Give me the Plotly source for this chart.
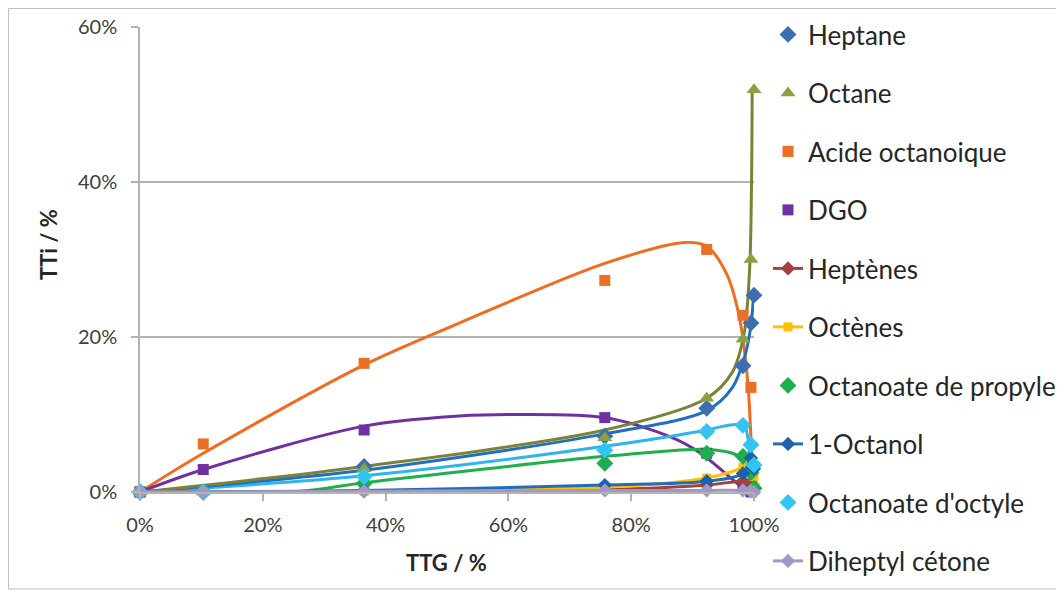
import plotly.graph_objects as go

# ---------------- data ----------------
TTG = [0, 0.103, 0.365, 0.757, 0.923, 0.982, 0.995, 1.0]

heptane = [0, 0, 0.033, 0.072, 0.108, 0.163, 0.218, 0.254]
octane = [0, 0, 0.030, 0.070, 0.121, 0.197, 0.300, 0.519]
acide = [0, 0.062, 0.166, 0.273, 0.313, 0.228, 0.135, 0.004]
dgo = [0, 0.029, 0.080, 0.096, 0.050, 0.005, 0.0, None]
heptenes = [0, 0, 0.001, 0.003, 0.009, 0.014, 0.012, 0.005]
octenes = [0, 0, 0.001, 0.006, 0.018, 0.032, 0.040, 0.020]
propyle = [0, 0, 0.011, 0.037, 0.050, 0.046, 0.025, 0.005]
octanol = [0, 0, 0.002, 0.009, 0.014, 0.024, 0.044, 0.030]
octyle = [0, 0, 0.020, 0.054, 0.078, 0.086, 0.061, 0.035]
diheptyl = [0, 0, 0.001, 0.002, 0.002, 0.002, 0.001, 0.0]

# smoothed curves drawn through the marker-only series
heptane_fit_x = [0, 0.365, 0.757, 0.923, 0.965, 0.985, 0.995, 1.0]
heptane_fit_y = [0, 0.028, 0.075, 0.105, 0.135, 0.175, 0.215, 0.262]
octane_fit_x = [0, 0.365, 0.757, 0.923, 0.965, 0.984, 0.993, 0.996, 0.997]
octane_fit_y = [0, 0.033, 0.080, 0.121, 0.155, 0.205, 0.290, 0.400, 0.520]
acide_fit_x = [0, 0.103, 0.365, 0.52, 0.757, 0.887, 0.923, 0.955, 0.976, 0.99, 0.998]
acide_fit_y = [0, 0.050, 0.164, 0.218, 0.295, 0.322, 0.317, 0.282, 0.226, 0.140, 0.003]
dgo_fit_x = [0, 0.103, 0.365, 0.52, 0.60, 0.757, 0.864, 0.913, 0.973, 0.984, 0.996]
dgo_fit_y = [0, 0.029, 0.085, 0.098, 0.100, 0.096, 0.071, 0.050, 0.011, 0.005, 0.0]
propyle_fit_x = [0, 0.103, 0.26, 0.365, 0.757, 0.90, 0.94, 0.965, 0.98, 0.99, 0.997]
propyle_fit_y = [0, 0.0, 0.001, 0.012, 0.046, 0.055, 0.054, 0.050, 0.043, 0.028, 0.004]
octyle_fit_x = [0, 0.365, 0.757, 0.923, 0.945, 0.97, 0.984, 0.991, 0.994, 0.997]
octyle_fit_y = [0, 0.021, 0.059, 0.080, 0.084, 0.087, 0.086, 0.065, 0.030, 0.005]

x_ticks = [0, 0.2, 0.4, 0.6, 0.8, 1.0]
y_ticks = [0, 0.2, 0.4, 0.6]

FONT = "Lato"

fig = go.Figure()

def curve(x, y, color):
    fig.add_trace(go.Scatter(x=x, y=y, mode="lines", showlegend=False,
                             line=dict(color=color, width=3, shape="spline", smoothing=0.9),
                             hoverinfo="skip"))

# curves first (under markers)
curve(acide_fit_x, acide_fit_y, "#F26B21")
curve(dgo_fit_x, dgo_fit_y, "#7030A0")
curve(propyle_fit_x, propyle_fit_y, "#21AE4D")
curve(octyle_fit_x, octyle_fit_y, "#2DB5EC")
curve(heptane_fit_x, heptane_fit_y, "#1F6FC2")
curve(octane_fit_x, octane_fit_y, "#7C8236")

def marker_series(name, y, color, symbol, size, group):
    fig.add_trace(go.Scatter(x=TTG, y=y, name=name, mode="markers", legendgroup=group,
                             marker=dict(color=color, symbol=symbol, size=size),
                             cliponaxis=False))

def line_series(name, y, color, mcolor, symbol, size, group):
    fig.add_trace(go.Scatter(x=TTG, y=y, name=name, mode="lines+markers", legendgroup=group,
                             line=dict(color=color, width=3, shape="spline", smoothing=0.9),
                             marker=dict(color=mcolor, symbol=symbol, size=size),
                             cliponaxis=False))

marker_series("Heptane", heptane, "#3D6FB0", "diamond", 13, "g1")
marker_series("Octane", octane, "#87A23F", "triangle-up", 13, "g2")
marker_series("Acide octanoique", acide, "#EC6F24", "square", 11, "g3")
marker_series("DGO", dgo, "#7032A0", "square", 11, "g4")
line_series("Heptènes", heptenes, "#A6403D", "#A6403D", "diamond", 11, "g5")
line_series("Octènes", octenes, "#FFC000", "#FFC000", "square", 9, "g6")
marker_series("Octanoate de propyle", propyle, "#1FAE4E", "diamond", 13, "g7")
line_series("1-Octanol", octanol, "#1F6EBE", "#1D61AA", "diamond", 11, "g8")
marker_series("Octanoate d'octyle", octyle, "#33C4F2", "diamond", 13, "g9")
line_series("Diheptyl cétone", diheptyl, "#A298C6", "#A298C6", "diamond", 11, "g10")

# page is offset by the browser's 8px body margin: work in figure pixels
OFF = 8
W, H = 1064, 593
L, R, T, B = 140 - OFF, 754 - OFF, 27 - OFF, 492 - OFF
pw, ph = R - L, B - T

def px(xpage):
    return (xpage - OFF - L) / pw

def py(ypage):
    return (B - (ypage - OFF)) / ph

fig.update_layout(
    width=W, height=H,
    margin=dict(l=L, r=W - R, t=T, b=H - B, autoexpand=False),
    paper_bgcolor="white", plot_bgcolor="white",
    font=dict(family=FONT, color="#404040"),
    legend=dict(x=px(768), y=py(11), xanchor="left", yanchor="top",
                font=dict(family=FONT, size=26, color="#262626"),
                tracegroupgap=21.7, traceorder="grouped", maxheight=600,
                bgcolor="rgba(0,0,0,0)"),
    xaxis=dict(range=[0, 1], tickvals=x_ticks, tickformat=".0%",
               showgrid=False, zeroline=False, showline=True, linecolor="#B3B3B3", linewidth=1.5,
               ticks="outside", ticklen=7, tickcolor="#B3B3B3", tickwidth=1.5,
               tickfont=dict(family=FONT, size=20, color="#404040"), ticklabelstandoff=7),
    yaxis=dict(range=[0, 0.6], tickvals=y_ticks, tickformat=".0%",
               showgrid=True, gridcolor="#B3B3B3", gridwidth=1.5, zeroline=False,
               showline=True, linecolor="#B3B3B3", linewidth=1.5,
               ticks="outside", ticklen=7, tickcolor="#B3B3B3", tickwidth=1.5,
               tickfont=dict(family=FONT, size=20, color="#404040"), ticklabelstandoff=10),
    annotations=[
        dict(text="<b>TTG / %</b>", x=px(446), y=py(562), xref="paper", yref="paper",
             xanchor="center", yanchor="middle",
             showarrow=False, font=dict(family=FONT, size=22, color="#262626")),
        dict(text="<b>TTi / %</b>", x=px(48), y=py(245), xref="paper", yref="paper",
             xanchor="center", yanchor="middle",
             showarrow=False, textangle=-90, font=dict(family=FONT, size=22, color="#262626")),
    ],
    shapes=[dict(type="rect", xref="paper", yref="paper",
                 x0=px(8.5), x1=px(1058), y0=py(589), y1=py(8.5),
                 line=dict(color="#BFBFBF", width=1), layer="below")],
)

fig.write_html("out.html")
